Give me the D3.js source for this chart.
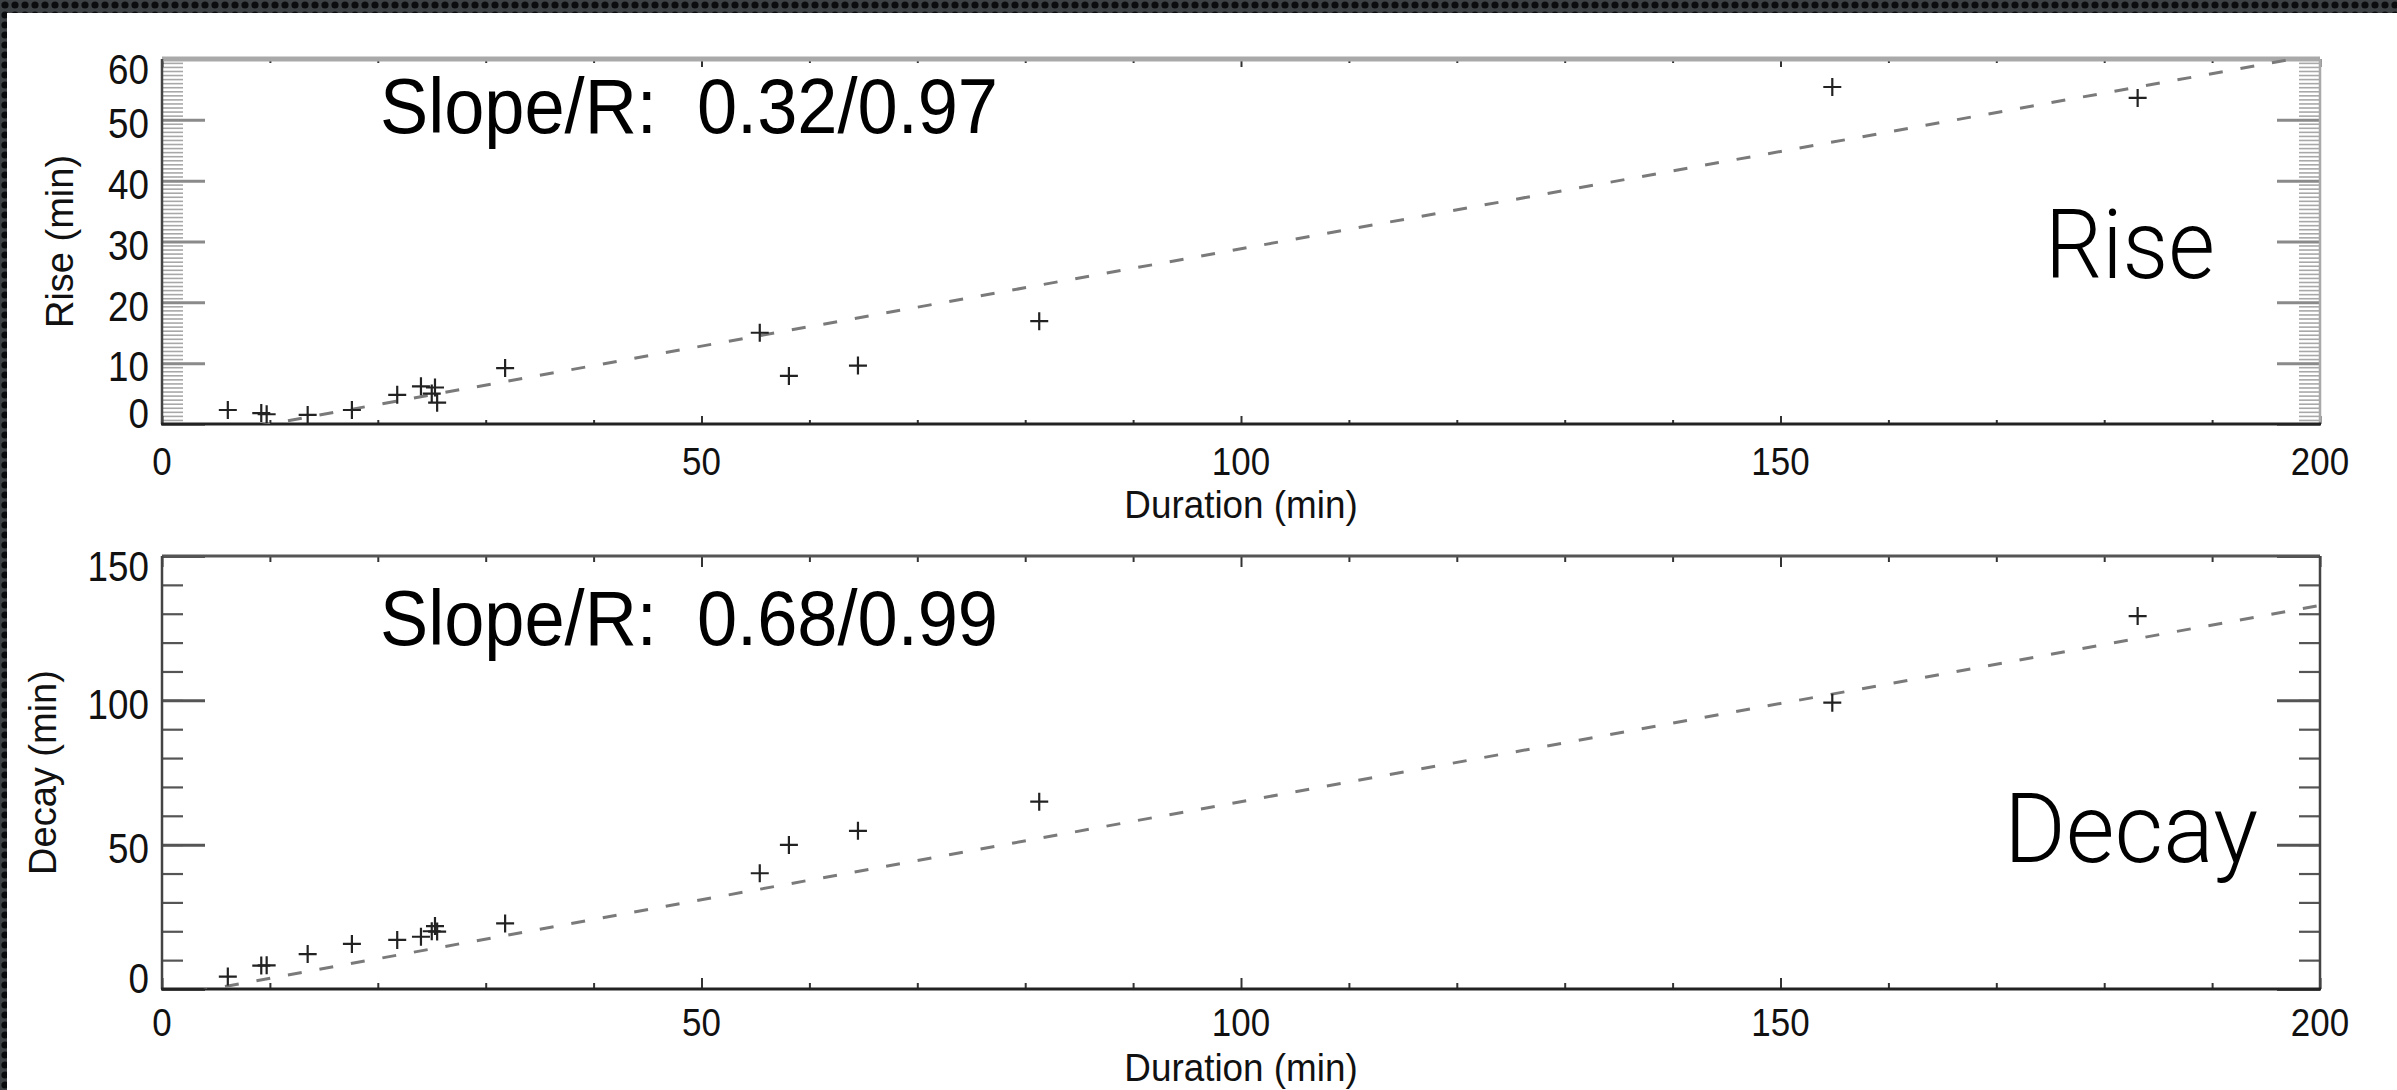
<!DOCTYPE html>
<html>
<head>
<meta charset="utf-8">
<script src="https://cdn.jsdelivr.net/npm/d3@7"></script>
<style>
  html, body { margin: 0; padding: 0; background: #ffffff; overflow: hidden; }
  svg { display: block; }
</style>
</head>
<body>
<script>
// ---------------- data ----------------
const durations   = [6.1, 9.2, 9.7, 13.5, 17.6, 21.8, 24.0, 25.0, 25.3, 25.5, 31.8, 55.4, 58.1, 64.5, 81.3, 154.8, 183.1];
const riseValues  = [2.3, 1.8, 1.6, 1.5, 2.3, 4.8, 6.2, 5.0, 6.0, 3.5, 9.2, 15.0, 7.9, 9.6, 16.9, 55.4, 53.6];
const decayValues = [4.3, 8.1, 8.2, 12.1, 15.6, 17.0, 18.1, 20.0, 21.8, 19.9, 22.7, 40.1, 49.9, 54.8, 64.9, 99.2, 129.2];

const xTicks      = [0, 50, 100, 150, 200];
const riseTicks   = [0, 10, 20, 30, 40, 50, 60];
const decayTicks  = [0, 50, 100, 150];

const fitX        = [0, 200];
const riseFitY    = [-3.2, 60.8];
const decayFitY   = [-3.1, 132.9];

const slopeLabels = ["Slope/R:  0.32/0.97", "Slope/R:  0.68/0.99"];
const panelNames  = ["Rise", "Decay"];
const yTitles     = ["Rise (min)", "Decay (min)"];
const xTitle      = "Duration (min)";

// ---------------- layout ----------------
const W = 2397, H = 1090;
const left = 162, right = 2320;

const panels = [
  { top: 59,  bottom: 424, yMax: 60,  ticks: riseTicks,  values: riseValues,  fit: riseFitY,
    minorStep: 0.667, minorColor: "#a8a8a8", minorWidth: 1.6, yMinorLen: 21, yMajorLen: 43, majorColor: "#8a8a8a",
    xMajorLen: 8, xMinorLen: 4, topColor: "#a9a9a9", topWidth: 5, rightColor: "#a9a9a9",
    titleX: 73, xLabelDy: 51, xTitleBase: 518, slopeBase: 133, nameX: 2215, nameBase: 278, nameLen: 170,
    slope: slopeLabels[0], name: panelNames[0], yTitle: yTitles[0] },
  { top: 556, bottom: 989, yMax: 150, ticks: decayTicks, values: decayValues, fit: decayFitY,
    minorStep: 10, minorColor: "#555", minorWidth: 2.2, yMinorLen: 21, yMajorLen: 43, majorColor: "#555",
    xMajorLen: 11, xMinorLen: 6, topColor: "#555", topWidth: 3, rightColor: "#444",
    titleX: 56, xLabelDy: 47, xTitleBase: 1081, slopeBase: 645, nameX: 2258, nameBase: 862, nameLen: 254,
    slope: slopeLabels[1], name: panelNames[1], yTitle: yTitles[1] }
];

const svg = d3.select("body").append("svg").attr("width", W).attr("height", H);
svg.append("rect").attr("width", W).attr("height", H).attr("fill", "#ffffff");

// dark textured border strip (top and left)
const defs = svg.append("defs");
const pat = defs.append("pattern").attr("id", "perf").attr("patternUnits", "userSpaceOnUse")
  .attr("width", 10).attr("height", 10);
pat.append("rect").attr("width", 10).attr("height", 10).attr("fill", "#3e4245");
pat.append("circle").attr("cx", 5).attr("cy", 5).attr("r", 3.6).attr("fill", "#0b0c0d");
svg.append("rect").attr("x", 0).attr("y", 0).attr("width", W).attr("height", 13).attr("fill", "url(#perf)");
svg.append("rect").attr("x", 0).attr("y", 0).attr("width", 7).attr("height", H).attr("fill", "url(#perf)");

const FONT = "'Liberation Sans', Arial, Helvetica, sans-serif";
const SQ = 0.92; // slight horizontal condensation of the Helvetica-like labels

const x = d3.scaleLinear().domain([0, 200]).range([left, right]);

panels.forEach((p, pi) => {
  const y = d3.scaleLinear().domain([0, p.yMax]).range([p.bottom, p.top]);
  const g = svg.append("g");

  const clipId = "clip" + pi;
  defs.append("clipPath").attr("id", clipId).append("rect")
    .attr("x", left).attr("y", p.top).attr("width", right - left).attr("height", p.bottom - p.top);

  // minor y ticks (left & right)
  const yMinor = d3.range(0, p.yMax + 1e-6, p.minorStep);
  const minorAxisL = d3.axisRight(y).tickValues(yMinor).tickSize(p.yMinorLen).tickFormat("");
  const minorAxisR = d3.axisLeft(y).tickValues(yMinor).tickSize(p.yMinorLen).tickFormat("");
  [g.append("g").attr("transform", `translate(${left},0)`).call(minorAxisL),
   g.append("g").attr("transform", `translate(${right},0)`).call(minorAxisR)].forEach(a => {
    a.select(".domain").remove();
    a.selectAll("line").attr("stroke", p.minorColor).attr("stroke-width", p.minorWidth);
  });

  // major y ticks (left & right)
  const majAxisL = d3.axisRight(y).tickValues(p.ticks).tickSize(p.yMajorLen).tickFormat("");
  const majAxisR = d3.axisLeft(y).tickValues(p.ticks).tickSize(p.yMajorLen).tickFormat("");
  [g.append("g").attr("transform", `translate(${left},0)`).call(majAxisL),
   g.append("g").attr("transform", `translate(${right},0)`).call(majAxisR)].forEach(a => {
    a.select(".domain").remove();
    a.selectAll("line").attr("stroke", p.majorColor).attr("stroke-width", 3);
  });

  // x ticks bottom (up) and top (down)
  const xMinor = d3.range(0, 201, 10).filter(v => v % 50 !== 0);
  const mk = (vals, len, pos) => {
    const ax = (pos === "bottom" ? d3.axisTop(x) : d3.axisBottom(x)).tickValues(vals).tickSize(len).tickFormat("");
    const a = g.append("g").attr("transform", `translate(0,${pos === "bottom" ? p.bottom : p.top})`).call(ax);
    a.select(".domain").remove();
    a.selectAll("line").attr("stroke", "#333").attr("stroke-width", 2);
  };
  mk(xMinor, p.xMinorLen, "bottom"); mk(xTicks, p.xMajorLen, "bottom");
  mk(xMinor, p.xMinorLen, "top");    mk(xTicks, p.xMajorLen, "top");

  // frame
  g.append("line").attr("x1", left).attr("x2", right).attr("y1", p.top).attr("y2", p.top)
    .attr("stroke", p.topColor).attr("stroke-width", p.topWidth);
  g.append("line").attr("x1", right).attr("x2", right).attr("y1", p.top).attr("y2", p.bottom)
    .attr("stroke", p.rightColor).attr("stroke-width", 2.5);
  g.append("line").attr("x1", left).attr("x2", left).attr("y1", p.top).attr("y2", p.bottom)
    .attr("stroke", "#444").attr("stroke-width", 2.5);
  g.append("line").attr("x1", left - 1).attr("x2", right + 1).attr("y1", p.bottom).attr("y2", p.bottom)
    .attr("stroke", "#222").attr("stroke-width", 3);

  // y tick labels (end labels kept inside the frame, as in IDL output)
  g.append("g").selectAll("text").data(p.ticks).join("text")
    .attr("transform", (d, i) => `translate(${left - 13},${y(d) + (i === 0 ? -11 : (i === p.ticks.length - 1 ? 10 : 3))}) scale(${SQ},1.06)`)
    .attr("dy", "0.36em")
    .attr("text-anchor", "end")
    .attr("font-family", FONT).attr("font-size", 40).attr("fill", "#111")
    .text(d => d);

  // x tick labels
  g.append("g").selectAll("text").data(xTicks).join("text")
    .attr("transform", d => `translate(${x(d)},${p.bottom + p.xLabelDy}) scale(${SQ},1)`)
    .attr("text-anchor", "middle")
    .attr("font-family", FONT).attr("font-size", 38).attr("fill", "#111")
    .text(d => d);

  // axis titles
  g.append("text")
    .attr("transform", `translate(${(left + right) / 2},${p.xTitleBase}) scale(0.97,1)`)
    .attr("text-anchor", "middle").attr("font-family", FONT).attr("font-size", 38).attr("fill", "#111")
    .text(xTitle);
  g.append("text")
    .attr("transform", `translate(${p.titleX},${(p.top + p.bottom) / 2}) rotate(-90)`)
    .attr("text-anchor", "middle").attr("font-family", FONT).attr("font-size", 38).attr("fill", "#111")
    .text(p.yTitle);

  // fit line
  g.append("path")
    .attr("clip-path", `url(#${clipId})`)
    .datum(fitX.map((v, i) => [v, p.fit[i]]))
    .attr("d", d3.line().x(d => x(d[0])).y(d => y(d[1])))
    .attr("fill", "none").attr("stroke", "#7a7a7a").attr("stroke-width", 3)
    .attr("stroke-dasharray", "14,18");

  // data crosses
  const pts = durations.map((d, i) => [d, p.values[i]]);
  g.append("g").selectAll("path").data(pts).join("path")
    .attr("transform", d => `translate(${x(d[0])},${y(d[1])})`)
    .attr("d", "M-9,0H9M0,-9V9")
    .attr("stroke", "#222").attr("stroke-width", 2.2).attr("fill", "none");

  // annotations
  g.append("text").attr("x", 380).attr("y", p.slopeBase)
    .attr("font-family", FONT).attr("font-size", 77).attr("fill", "#000")
    .style("white-space", "pre").attr("xml:space", "preserve")
    .attr("textLength", 618).attr("lengthAdjust", "spacingAndGlyphs")
    .text(p.slope);
  g.append("text").attr("x", p.nameX).attr("y", p.nameBase)
    .attr("text-anchor", "end")
    .attr("font-family", "Roboto, 'Open Sans', Lato, sans-serif").attr("font-weight", 300)
    .attr("font-size", 96).attr("fill", "#000")
    .attr("textLength", p.nameLen).attr("lengthAdjust", "spacingAndGlyphs")
    .text(p.name);
});
</script>
</body>
</html>
